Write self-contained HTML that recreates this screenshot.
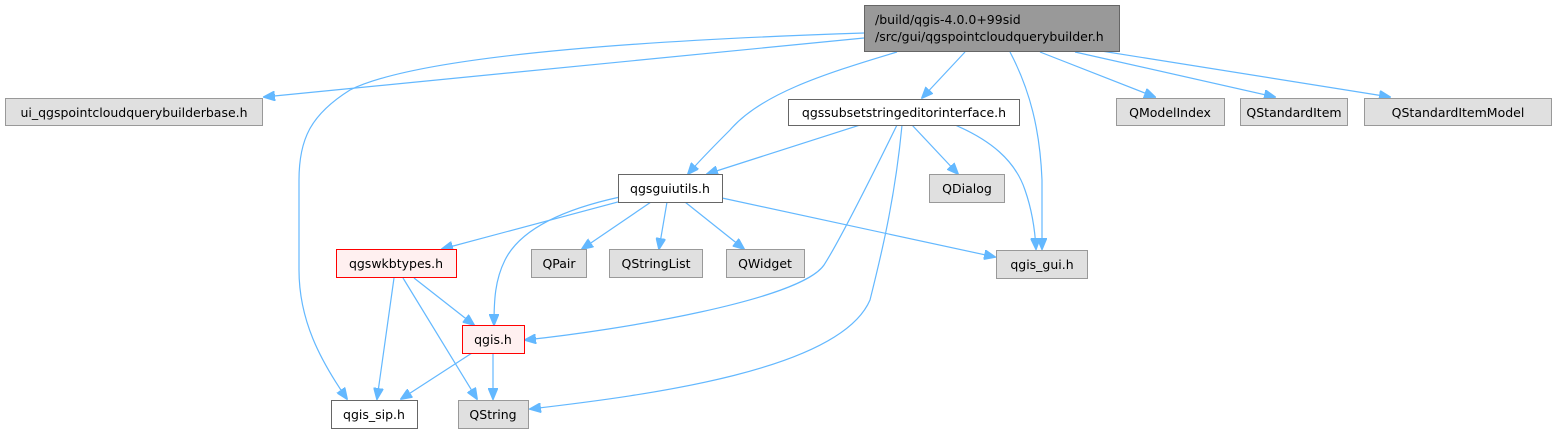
<!DOCTYPE html>
<html><head><meta charset="utf-8"><style>
html,body{margin:0;padding:0;background:#fff;width:1557px;height:434px;overflow:hidden}
text{font-family:"DejaVu Sans","Liberation Sans",sans-serif;font-size:12.5px;fill:#000}
.e{fill:none;stroke:#63b8ff;stroke-width:1.2}
</style></head><body>
<svg width="1557" height="434" viewBox="0 0 1557 434" xmlns="http://www.w3.org/2000/svg">
<defs><marker id="a" markerWidth="12" markerHeight="10" refX="11" refY="5" orient="auto" markerUnits="userSpaceOnUse"><path d="M0,0 L12,5 L0,10 z" fill="#63b8ff" stroke="#63b8ff"/></marker></defs>
<g marker-end="url(#a)">
<path class="e" d="M864,38 L264,97"/>
<path class="e" d="M864,33 C650,40 420,55 350,90 C310,115 299,140 299,180 L299,270 C299,320 320,360 347,399"/>
<path class="e" d="M897,52 C820,75 760,95 730,130 C715,145 700,160 688,174"/>
<path class="e" d="M965,52 L922,98"/>
<path class="e" d="M1010,52 C1030,90 1040,130 1042,180 L1042,249"/>
<path class="e" d="M1040,52 L1155,97"/>
<path class="e" d="M1075,52 L1275,97"/>
<path class="e" d="M1095,50 L1390,97"/>
<path class="e" d="M860,125 L707,174"/>
<path class="e" d="M912,125 L958,174"/>
<path class="e" d="M955,125 C990,140 1015,160 1025,190 C1032,210 1035,230 1036,249"/>
<path class="e" d="M897,125 C870,180 840,240 824,265 C800,300 620,330 525,340"/>
<path class="e" d="M902,125 C895,200 880,260 870,300 C840,370 650,395 530,409"/>
<path class="e" d="M640,196 L442,249"/>
<path class="e" d="M620,197 C560,210 520,230 505,260 C495,280 494,300 494,325"/>
<path class="e" d="M651,202 L582,249"/>
<path class="e" d="M667,202 L659,249"/>
<path class="e" d="M685,202 L744,249"/>
<path class="e" d="M722,198 L995,257"/>
<path class="e" d="M394,278 L377,399"/>
<path class="e" d="M403,278 L477,399"/>
<path class="e" d="M414,278 L474,325"/>
<path class="e" d="M472,353 L401,399"/>
<path class="e" d="M493,353 L493,399"/>
</g>
<rect x="864.5" y="5.5" width="255" height="46" fill="#999" stroke="#666"/>
<text x="875" y="24">/build/qgis-4.0.0+99sid</text>
<text x="875" y="41">/src/gui/qgspointcloudquerybuilder.h</text>
<rect x="5.5" y="98.5" width="257" height="27" fill="#e0e0e0" stroke="#999"/>
<text x="134" y="117" text-anchor="middle">ui_qgspointcloudquerybuilderbase.h</text>
<rect x="788.5" y="99.5" width="231" height="26" fill="#fff" stroke="#666"/>
<text x="904" y="117" text-anchor="middle">qgssubsetstringeditorinterface.h</text>
<rect x="1116.5" y="98.5" width="108" height="27" fill="#e0e0e0" stroke="#999"/>
<text x="1170" y="117" text-anchor="middle">QModelIndex</text>
<rect x="1240.5" y="98.5" width="107" height="27" fill="#e0e0e0" stroke="#999"/>
<text x="1294" y="117" text-anchor="middle">QStandardItem</text>
<rect x="1364.5" y="98.5" width="187" height="27" fill="#e0e0e0" stroke="#999"/>
<text x="1458" y="117" text-anchor="middle">QStandardItemModel</text>
<rect x="618.5" y="174.5" width="104" height="28" fill="#fff" stroke="#666"/>
<text x="670" y="193" text-anchor="middle">qgsguiutils.h</text>
<rect x="929.5" y="174.5" width="75" height="28" fill="#e0e0e0" stroke="#999"/>
<text x="967" y="193" text-anchor="middle">QDialog</text>
<rect x="336.5" y="249.5" width="120" height="28" fill="#fff0f0" stroke="#f00"/>
<text x="396" y="268" text-anchor="middle">qgswkbtypes.h</text>
<rect x="531.5" y="249.5" width="55" height="28" fill="#e0e0e0" stroke="#999"/>
<text x="559" y="268" text-anchor="middle">QPair</text>
<rect x="609.5" y="249.5" width="93" height="28" fill="#e0e0e0" stroke="#999"/>
<text x="656" y="268" text-anchor="middle">QStringList</text>
<rect x="726.5" y="249.5" width="78" height="28" fill="#e0e0e0" stroke="#999"/>
<text x="765" y="268" text-anchor="middle">QWidget</text>
<rect x="996.5" y="250.5" width="91" height="28" fill="#e0e0e0" stroke="#999"/>
<text x="1042" y="269" text-anchor="middle">qgis_gui.h</text>
<rect x="462.5" y="325.5" width="62" height="28" fill="#fff0f0" stroke="#f00"/>
<text x="493" y="344" text-anchor="middle">qgis.h</text>
<rect x="331.5" y="400.5" width="86" height="28" fill="#fff" stroke="#666"/>
<text x="374" y="419" text-anchor="middle">qgis_sip.h</text>
<rect x="458.5" y="400.5" width="70" height="28" fill="#e0e0e0" stroke="#999"/>
<text x="493" y="419" text-anchor="middle">QString</text>
</svg>
</body></html>
